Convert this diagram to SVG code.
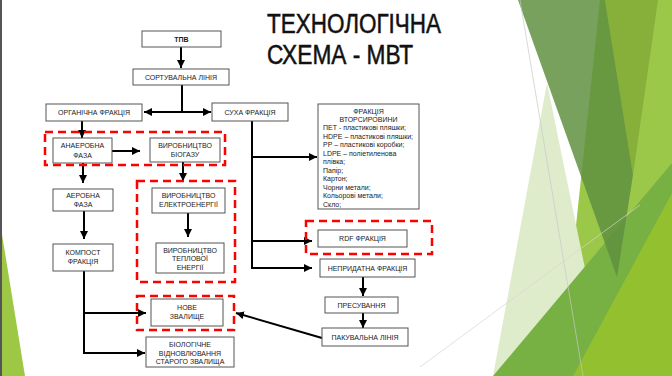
<svg xmlns="http://www.w3.org/2000/svg" width="672" height="376" viewBox="0 0 672 376">
<defs>
<marker id="ah" markerUnits="userSpaceOnUse" markerWidth="8" markerHeight="8" refX="8" refY="4" orient="auto-start-reverse">
<path d="M0,0 L8,4 L0,8 z" fill="#000"/>
</marker>
<style>
.box{fill:#fff;stroke:#555;stroke-width:1}
.red{fill:none;stroke:#f00;stroke-width:2.5;stroke-dasharray:8 5}
.t{font-family:"Liberation Sans",Arial,sans-serif;font-size:7px;fill:#1a1a1a;text-anchor:middle}
.l{font-family:"Liberation Sans",Arial,sans-serif;font-size:7px;fill:#1a1a1a}
.c{fill:none;stroke:#000;stroke-width:2}
.title{font-family:"Liberation Sans",Arial,sans-serif;font-size:27px;fill:#111;stroke:#111;stroke-width:0.5}
</style>
</defs>
<rect width="672" height="376" fill="#fff"/>
<g id="decor">
<polygon points="600,0 672,0 672,376 560,376" fill="#9cc84a"/>
<polygon points="605,0 658,0 633,175" fill="#86b03a"/>
<polygon points="547,83 607,376 493,376" fill="#dfeccc"/>
<polygon points="493,376 672,163 672,376" fill="#77b043"/>
<polygon points="573,376 672,193 672,376" fill="#93c02e"/>
<polygon points="518,0 605,0 633,175 617,277" fill="#5f913f" fill-opacity="0.85"/>
<line x1="520" y1="0" x2="583" y2="376" stroke="#c8c8c8" stroke-width="0.7"/>
<line x1="420" y1="367" x2="640" y2="205" stroke="#d4d4d4" stroke-width="0.7"/>
<polygon points="0,222 25,376 0,376" fill="#9dc845"/>
<rect x="0" y="0" width="2" height="376" fill="#555"/>
</g>
<g id="title">
<text class="title" x="267" y="33" textLength="174" lengthAdjust="spacingAndGlyphs">ТЕХНОЛОГІЧНА</text>
<text class="title" x="267" y="64" textLength="146" lengthAdjust="spacingAndGlyphs">СХЕМА - МВТ</text>
</g>
<g id="connectors">
<line class="c" x1="181" y1="47" x2="181" y2="68" marker-end="url(#ah)"/>
<line class="c" x1="182" y1="85" x2="182" y2="112"/>
<line class="c" x1="144" y1="112" x2="211" y2="112" stroke-width="2.5" marker-start="url(#ah)" marker-end="url(#ah)"/>
<line class="c" x1="82" y1="121" x2="82" y2="138" marker-end="url(#ah)"/>
<line class="c" x1="112" y1="151" x2="140" y2="151" marker-end="url(#ah)"/>
<line class="c" x1="83" y1="163" x2="83" y2="183" marker-end="url(#ah)"/>
<line class="c" x1="183" y1="162" x2="183" y2="181" marker-end="url(#ah)"/>
<line class="c" x1="188" y1="213" x2="188" y2="237" marker-end="url(#ah)"/>
<line class="c" x1="84" y1="211" x2="84" y2="239" marker-end="url(#ah)"/>
<polyline class="c" points="84,271 84,353 145,353" marker-end="url(#ah)"/>
<line class="c" x1="84" y1="313" x2="146" y2="313" marker-end="url(#ah)"/>
<polyline class="c" points="252,121 252,268 312,268" marker-end="url(#ah)"/>
<line class="c" x1="252" y1="157" x2="317" y2="157" marker-end="url(#ah)"/>
<line class="c" x1="252" y1="241" x2="312" y2="241" marker-end="url(#ah)"/>
<line class="c" x1="363" y1="277" x2="363" y2="296" marker-end="url(#ah)"/>
<line class="c" x1="363" y1="313" x2="363" y2="328" marker-end="url(#ah)"/>
<line class="c" x1="322" y1="338" x2="236" y2="313" marker-end="url(#ah)"/>
</g>
<g id="groups">
<rect class="red" x="45" y="132" width="180" height="33"/>
<rect class="red" x="137" y="181" width="98" height="101"/>
<rect class="red" x="137" y="296" width="97" height="34"/>
<rect class="red" x="306" y="221" width="126" height="33"/>
</g>
<g id="tpv"><rect class="box" x="142" y="31" width="79" height="16"/><text class="t" x="181.5" y="41.5" font-weight="bold">ТПВ</text></g>
<g id="sort"><rect class="box" x="133" y="69" width="96" height="16"/><text class="t" x="181" y="79.5">СОРТУВАЛЬНА ЛІНІЯ</text></g>
<g id="org"><rect class="box" x="46" y="104" width="96" height="17"/><text class="t" x="94" y="115">ОРГАНІЧНА ФРАКЦІЯ</text></g>
<g id="dry"><rect class="box" x="212" y="103" width="76" height="18"/><text class="t" x="250" y="114.5">СУХА ФРАКЦІЯ</text></g>
<g id="anaer"><rect class="box" x="53" y="138" width="59" height="25"/><text class="t" x="82.5" y="148">АНАЕРОБНА</text><text class="t" x="82.5" y="157.5">ФАЗА</text></g>
<g id="biogas"><rect class="box" x="150" y="138" width="70" height="24"/><text class="t" x="185" y="148">ВИРОБНИЦТВО</text><text class="t" x="185" y="157">БІОГАЗУ</text></g>
<g id="aer"><rect class="box" x="53" y="189" width="60" height="22"/><text class="t" x="83" y="198">АЕРОБНА</text><text class="t" x="83" y="207">ФАЗА</text></g>
<g id="elec"><rect class="box" x="152" y="188" width="73" height="25"/><text class="t" x="188.5" y="198">ВИРОБНИЦТВО</text><text class="t" x="188.5" y="207">ЕЛЕКТРОЕНЕРГІЇ</text></g>
<g id="heat"><rect class="box" x="156" y="243" width="68" height="30"/><text class="t" x="190" y="252.5">ВИРОБНИЦТВО</text><text class="t" x="190" y="261">ТЕПЛОВОЇ</text><text class="t" x="190" y="269.5">ЕНЕРГІЇ</text></g>
<g id="compost"><rect class="box" x="53" y="244" width="60" height="27"/><text class="t" x="83" y="254.5">КОМПОСТ</text><text class="t" x="83" y="264">ФРАКЦІЯ</text></g>
<g id="newlf"><rect class="box" x="151" y="299" width="72" height="27"/><text class="t" x="187" y="309.5">НОВЕ</text><text class="t" x="187" y="319">ЗВАЛИЩЕ</text></g>
<g id="bio"><rect class="box" x="146" y="337" width="88" height="30"/><text class="t" x="190" y="347" font-size="7.5">БІОЛОГІЧНЕ</text><text class="t" x="190" y="355.5" font-size="7.5">ВІДНОВЛЮВАННЯ</text><text class="t" x="190" y="364" font-size="7.5">СТАРОГО ЗВАЛИЩА</text></g>
<g id="recycl"><rect class="box" x="318" y="104" width="101" height="105"/>
<text class="t" x="368.5" y="114">ФРАКЦІЯ</text>
<text class="t" x="368.5" y="122">ВТОРСИРОВИНИ</text>
<text class="l" x="323" y="130">ПЕТ - пластикові пляшки;</text>
<text class="l" x="323" y="138.5">HDPE – пластикові пляшки;</text>
<text class="l" x="323" y="147">PP – пластикові коробки;</text>
<text class="l" x="323" y="155.5">LDPE – поліетиленова</text>
<text class="l" x="323" y="164">плівка;</text>
<text class="l" x="323" y="172.5">Папір;</text>
<text class="l" x="323" y="181">Картон;</text>
<text class="l" x="323" y="189.5">Чорни метали;</text>
<text class="l" x="323" y="198">Кольорові метали;</text>
<text class="l" x="323" y="206.5">Скло;</text>
</g>
<g id="rdf"><rect class="box" x="318" y="230" width="89" height="17"/><text class="t" x="362.5" y="241">RDF ФРАКЦІЯ</text></g>
<g id="unfit"><rect class="box" x="320" y="259" width="95" height="18"/><text class="t" x="367.5" y="270.5">НЕПРИДАТНА ФРАКЦІЯ</text></g>
<g id="press"><rect class="box" x="325" y="297" width="73" height="16"/><text class="t" x="361.5" y="307.5">ПРЕСУВАННЯ</text></g>
<g id="pack"><rect class="box" x="322" y="328" width="86" height="18"/><text class="t" x="365" y="339.5">ПАКУВАЛЬНА ЛІНІЯ</text></g>
</svg>
